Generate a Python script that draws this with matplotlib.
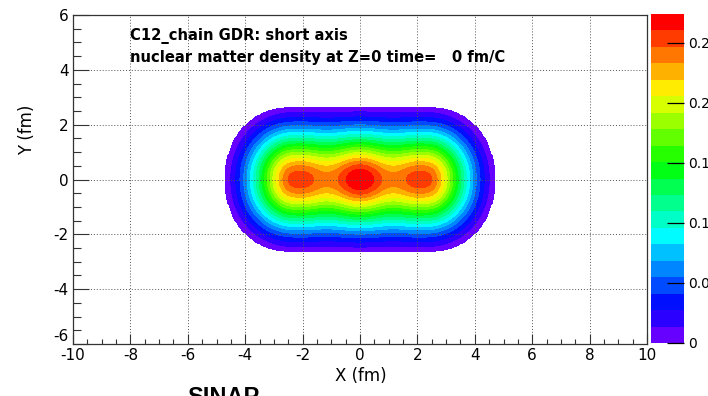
import numpy as np
import matplotlib
matplotlib.use("Agg")
import matplotlib.pyplot as plt
import colorsys

plt.rcParams["axes.unicode_minus"] = False

# ---------------- data ----------------
cluster_x = [-2.1, 0.0, 2.1]            # alpha-cluster centres along the chain (fm)
cluster_amp = [0.042, 0.0605, 0.042]    # extra density of each cluster
cluster_sigma_x = 0.632                 # cluster width along the chain (fm)
cluster_sigma_y = 1.05                  # cluster width across the chain (fm)
envelope_amp = 0.2435                   # smooth matter envelope
envelope_sigma = 1.3                    # fm
envelope_half_length = 2.4              # flat part of the envelope along x (fm)
envelope_x_scale = 0.875
surface_radius = 2.65                   # density reaches zero here (fm)
surface_shape = 2.1

z_max = 0.274
n_levels = 20
x_range = [-10, 10]
y_range = [-6, 6]
x_ticks = [-10, -8, -6, -4, -2, 0, 2, 4, 6, 8, 10]
y_ticks = [-6, -4, -2, 0, 2, 4, 6]
cbar_ticks = [0, 0.05, 0.1, 0.15, 0.2, 0.25]
title_lines = ["C12_chain GDR: short axis",
               "nuclear matter density at Z=0 time=   0 fm/C"]

# ---------------- density field ----------------
xg = np.linspace(x_range[0], x_range[1], 501)
yg = np.linspace(y_range[0], y_range[1], 301)
X, Y = np.meshgrid(xg, yg)
dx = np.clip(np.abs(X) - envelope_half_length, 0, None) / envelope_x_scale
r = (dx ** surface_shape + np.abs(Y) ** surface_shape) ** (1.0 / surface_shape)
inside = r < surface_radius
s_env = 2 * envelope_sigma ** 2
cut = envelope_amp * np.exp(-surface_radius ** 2 / s_env)
rho = envelope_amp * np.exp(-r ** 2 / s_env) - cut
for cx, a in zip(cluster_x, cluster_amp):
    rho = rho + a * np.exp(-(X - cx) ** 2 / (2 * cluster_sigma_x ** 2)
                           - Y ** 2 / (2 * cluster_sigma_y ** 2))
rho = np.minimum(rho, z_max * 0.9999)
rho = np.ma.masked_where(~inside, rho)

levels = np.linspace(0, z_max, n_levels + 1)
colors = [colorsys.hsv_to_rgb((264.0 * (n_levels - 1 - i) / (n_levels - 1)) / 360.0, 1, 1)
          for i in range(n_levels)]

# ---------------- figure ----------------
W, H = 708, 396
fig = plt.figure(figsize=(W / 100, H / 100), dpi=100)
fig.patch.set_facecolor("white")

L, R, T, B = 73, 647, 15, 344
ax = fig.add_axes([L / W, 1 - B / H, (R - L) / W, (B - T) / H])
cs = ax.contourf(X, Y, rho, levels=levels, colors=colors, zorder=1)
ax.set_xlim(x_range)
ax.set_ylim(y_range)
ax.set_xticks(x_ticks)
ax.set_yticks(y_ticks)
ax.set_xticklabels([str(t) for t in x_ticks])
ax.set_yticklabels([str(t) for t in y_ticks])
ax.set_xticks(np.arange(-10, 10.01, 0.5), minor=True)
ax.set_yticks(np.arange(-6, 6.01, 0.5), minor=True)
ax.grid(True, which="major", linestyle=(0, (1, 2)), color="#555555", linewidth=0.7)
ax.tick_params(axis="x", which="major", direction="in", length=7, width=0.8,
               labelsize=11, pad=3, color="#333333")
ax.tick_params(axis="x", which="minor", direction="in", length=3.5, width=0.8, color="#333333")
ax.tick_params(axis="y", which="major", direction="in", length=11.5, width=0.8,
               labelsize=11, pad=3, color="#333333")
ax.tick_params(axis="y", which="minor", direction="in", length=5.8, width=0.8, color="#333333")
for s in ax.spines.values():
    s.set_color("#333333")
    s.set_linewidth(0.9)
for lab in ax.get_xticklabels() + ax.get_yticklabels():
    lab.set_family("DejaVu Sans")
ax.get_yticklabels()[0].set_va("bottom")

fig.text(360.6 / W, 1 - 375.6 / H, "X (fm)", ha="center", va="center",
         fontsize=12, family="DejaVu Sans")
fig.text(27 / W, 1 - 129.5 / H, "Y (fm)", ha="center", va="center", rotation=90,
         fontsize=12, family="DejaVu Sans")

ax.text(-8.0, 5.09, title_lines[0], fontsize=10.6, fontweight="bold",
        family="DejaVu Sans", va="baseline", ha="left")
ax.text(-8.0, 4.28, title_lines[1], fontsize=10.6, fontweight="bold",
        family="DejaVu Sans", va="baseline", ha="left")

# colour bar
cax = fig.add_axes([651 / W, 1 - 343 / H, 33 / W, 329 / H])
cb = fig.colorbar(cs, cax=cax, ticks=cbar_ticks)
cb.outline.set_visible(False)
cb.ax.set_yticklabels(["%g" % t for t in cbar_ticks])
cb.ax.tick_params(direction="in", length=12, width=0.9, color="black",
                  labelsize=10, pad=3)
for lab in cb.ax.get_yticklabels():
    lab.set_family("DejaVu Sans")

fig.text(187.6 / W, 1 - 385.5 / H, "SINAP", ha="left", va="top", fontsize=17,
         fontweight="bold", family="Liberation Sans")

fig.savefig("out.png", dpi=100)
